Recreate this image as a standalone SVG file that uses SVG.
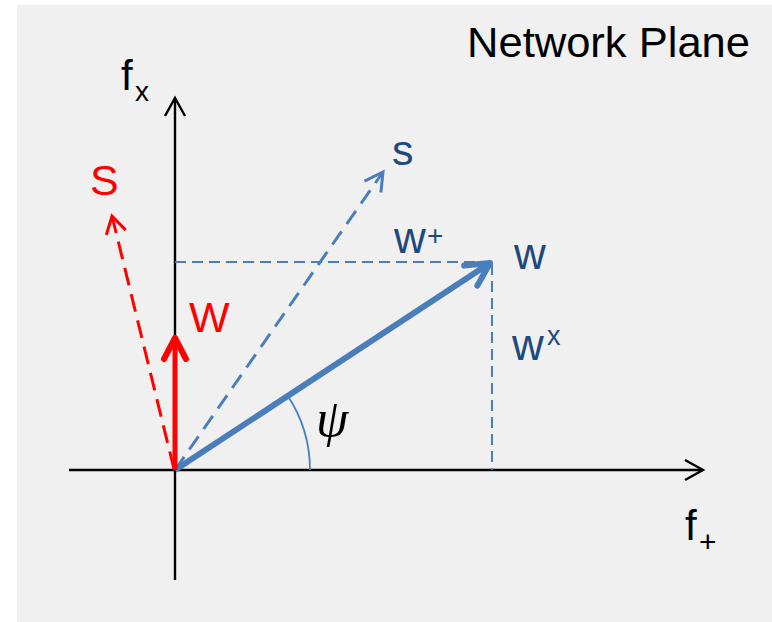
<svg xmlns="http://www.w3.org/2000/svg" width="772" height="622" viewBox="0 0 772 622">
<style>
.t{font-family:"Liberation Sans",Arial,sans-serif;}
.k{fill:#000;}
.b{fill:#1F497D;}
.r{fill:#FF0000;}
.axis{stroke:#000;stroke-width:2.4;fill:none;}
.bl{stroke:#4A7EBB;fill:none;}
.rd{stroke:#FF0000;fill:none;}
</style>
<defs>
<marker id="mk" markerUnits="userSpaceOnUse" markerWidth="40" markerHeight="40" viewBox="-30 -20 40 40" refX="0" refY="0" orient="auto" overflow="visible">
<path d="M-18,-10 L0,0 L-18,10" fill="none" stroke="#000" stroke-width="2.4"/>
</marker>
<marker id="mw" markerUnits="userSpaceOnUse" markerWidth="40" markerHeight="40" viewBox="-30 -20 40 40" refX="0" refY="0" orient="auto" overflow="visible">
<path d="M-23,-12 L0,0 L-23,12" fill="none" stroke="#4A7EBB" stroke-width="6" stroke-linecap="round" stroke-linejoin="round"/>
</marker>
<marker id="ms" markerUnits="userSpaceOnUse" markerWidth="40" markerHeight="40" viewBox="-30 -20 40 40" refX="0" refY="0" orient="auto" overflow="visible">
<path d="M-18,-10 L0,0 L-18,10" fill="none" stroke="#4A7EBB" stroke-width="3"/>
</marker>
<marker id="mW" markerUnits="userSpaceOnUse" markerWidth="40" markerHeight="40" viewBox="-30 -20 40 40" refX="0" refY="0" orient="auto" overflow="visible">
<path d="M-21,-11 L0,0 L-21,11" fill="none" stroke="#FF0000" stroke-width="6" stroke-linecap="round" stroke-linejoin="round"/>
</marker>
<marker id="mS" markerUnits="userSpaceOnUse" markerWidth="40" markerHeight="40" viewBox="-30 -20 40 40" refX="0" refY="0" orient="auto" overflow="visible">
<path d="M-17,-10 L0,0 L-17,10" fill="none" stroke="#FF0000" stroke-width="3"/>
</marker>
</defs>
<rect x="17" y="5" width="755" height="617" fill="#F0F0F0"/>
<g id="connectors">
<line class="axis" x1="69" y1="470" x2="703" y2="470" marker-end="url(#mk)"/>
<line class="axis" x1="175" y1="580" x2="175" y2="98" marker-end="url(#mk)"/>
<line class="bl" x1="175" y1="262" x2="490" y2="262" stroke-width="2" stroke-dasharray="11,6"/>
<line class="bl" x1="492" y1="264" x2="492" y2="470" stroke-width="2" stroke-dasharray="11,6"/>
<line class="bl" x1="175" y1="470" x2="383" y2="172" stroke-width="3" stroke-dasharray="16,9" marker-end="url(#ms)"/>
<line class="rd" x1="174" y1="469" x2="112" y2="216" stroke-width="3" stroke-dasharray="18,9" marker-end="url(#mS)"/>
<line class="bl" x1="175" y1="470" x2="490" y2="263" stroke-width="6" marker-end="url(#mw)"/>
<line class="rd" x1="175" y1="470" x2="175" y2="338" stroke-width="5" marker-end="url(#mW)"/>
<path class="bl" d="M287.7,395.7 A135,135 0 0 1 310,470" stroke-width="1.8"/>
</g>
<g id="title"><text class="t k" x="467" y="57" font-size="42" textLength="283" lengthAdjust="spacingAndGlyphs">Network Plane</text></g>
<g id="fx"><text class="t k" x="121" y="90" font-size="42">f</text><text class="t k" x="135" y="101" font-size="28">x</text></g>
<g id="fplus"><text class="t k" x="685" y="540" font-size="42">f</text><text class="t k" x="699" y="552" font-size="30">+</text></g>
<g id="S-red"><text class="t r" x="90" y="195" font-size="43">S</text></g>
<g id="s-blue"><text class="t b" x="392" y="165" font-size="43">s</text></g>
<g id="wplus"><text class="t b" x="394" y="253" font-size="44">w</text><text class="t b" x="427" y="245" font-size="28">+</text></g>
<g id="w"><text class="t b" x="514" y="269" font-size="44">w</text></g>
<g id="wx"><text class="t b" x="512" y="360" font-size="44">w</text><text class="t b" x="547" y="345" font-size="27">x</text></g>
<g id="W-red"><text class="t r" x="189" y="332" font-size="43">W</text></g>
<g id="psi"><text x="316" y="436" font-size="52" font-style="italic" font-family="Liberation Serif, serif" fill="#000">ψ</text></g>
</svg>
